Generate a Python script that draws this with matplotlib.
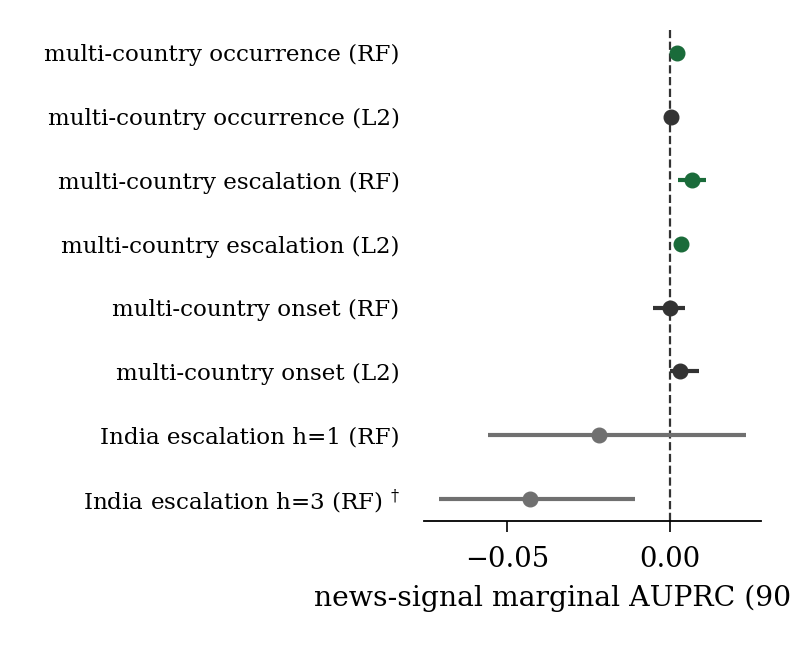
import matplotlib
matplotlib.use("Agg")
import matplotlib.pyplot as plt
import numpy as np

plt.rcParams["font.family"] = "DejaVu Serif"
plt.rcParams["mathtext.fontset"] = "dejavuserif"

labels = [
    "multi-country occurrence (RF)",
    "multi-country occurrence (L2)",
    "multi-country escalation (RF)",
    "multi-country escalation (L2)",
    "multi-country onset (RF)",
    "multi-country onset (L2)",
    "India escalation h=1 (RF)",
    "India escalation h=3 (RF)$^{\\;\\dagger}$",
]
est = [0.0021, 0.0003, 0.0067, 0.0034, 0.0000, 0.0030, -0.0218, -0.0429]
lo = [0.0004, 0.0000, 0.0024, 0.0025, -0.0052, 0.0000, -0.0558, -0.0709]
hi = [0.0030, 0.0006, 0.0110, 0.0040, 0.0046, 0.0089, 0.0233, -0.0107]
colors = ["#1a6b3a", "#333333", "#1a6b3a", "#1a6b3a",
          "#333333", "#333333", "#707070", "#707070"]

fig = plt.figure(figsize=(7.92, 6.48), dpi=100)
ax = fig.add_axes([424 / 792, 1 - 521 / 648, 337 / 792, 491 / 648])

y = np.arange(len(labels))
for i in range(len(labels)):
    ax.errorbar(est[i], y[i], xerr=[[est[i] - lo[i]], [hi[i] - est[i]]],
                fmt="o", color=colors[i], ms=10.5, elinewidth=3, capsize=0,
                zorder=3)

ax.axvline(0, color="#333333", ls="--", lw=1.6, zorder=2)

ax.set_yticks(y)
ax.set_yticklabels(labels, fontsize=16.6)
ax.set_ylim(7.35, -0.36)
ax.set_xlim(-0.0755, 0.0279)
ax.set_xticks([-0.05, 0.0])
ax.set_xticklabels(["\u22120.05", "0.00"])
ax.tick_params(axis="y", length=0, pad=17.5)
ax.tick_params(axis="x", labelsize=19.7, length=8, width=1.2, pad=10)
ax.set_xlabel("news-signal marginal AUPRC (90% CI)", fontsize=20.3, labelpad=8.5)

for s in ["top", "right", "left"]:
    ax.spines[s].set_visible(False)
ax.spines["bottom"].set_linewidth(1.3)

fig.savefig("out.png", dpi=100)
